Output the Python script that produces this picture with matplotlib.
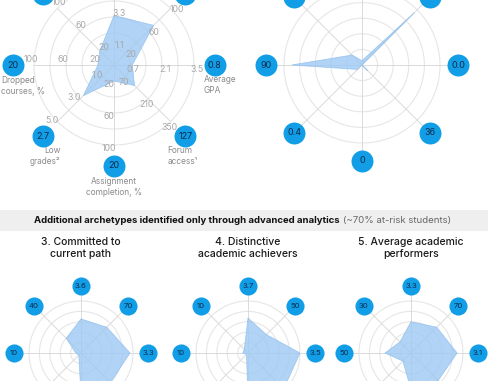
import numpy as np
import matplotlib.pyplot as plt
from matplotlib.patches import Rectangle

plt.rcParams['font.family'] = ['Inter', 'DejaVu Sans']

W, H = 488, 381
BLUE = "#119ee6"
NAVY = "#0d2b4d"
FILL = "#9ec9f3"
RING = "#e6e6e6"
SPOKE = "#dadada"
GREY = "#8a8a8a"

# per-axis scale, clockwise from top
axis_max = [5.5, 100, 3.5, 350, 100, 5.0, 100, 100]
tick_fracs = [0.2, 0.6, 1.0]
tick_labels = [
    ["1.1", "3.3", "5.5"],
    ["20", "60", "100"],
    ["0.7", "2.1", "3.5"],
    ["70", "210", "350"],
    ["20", "60", "100"],
    ["1.0", "3.0", "5.0"],
    ["20", "60", "100"],
    ["20", "60", "100"],
]
axis_names = ["", "", "Average\nGPA", "Forum\naccess\u00b9", "Assignment\ncompletion, %",
              "Low\ngrades\u00b2", "Dropped\ncourses, %", ""]

vals_1 = [3.4, 70, 0.8, 127, 20, 2.7, 20, 25]
labels_1 = ["3.4", "70", "0.8", "127", "20", "2.7", "20", "25"]
vals_2 = [0.3, 95, 0.0, 36, 0, 0.4, 90, 18]
labels_2 = ["0.3", "95", "0.0", "36", "0", "0.4", "90", "18"]
vals_3 = [3.6, 70, 3.3, 280, 80, 0.3, 10, 40]
labels_3 = ["3.6", "70", "3.3", "280", "80", "0.3", "10", "40"]
vals_4 = [3.7, 50, 3.5, 340, 90, 0.2, 10, 10]
labels_4 = ["3.7", "50", "3.5", "340", "90", "0.2", "10", "10"]
vals_5 = [3.3, 70, 3.1, 260, 70, 1.1, 50, 30]
labels_5 = ["3.3", "70", "3.1", "260", "70", "1.1", "50", "30"]

titles = ["3. Committed to\ncurrent path", "4. Distinctive\nacademic achievers",
          "5. Average academic\nperformers"]

angles = np.arange(8) * np.pi / 4

fig = plt.figure(figsize=(W / 100, H / 100), dpi=100)


def radar(cx, cy, R, values, labels, lab_r, dot_s, dot_fs, spoke_end):
    ax = fig.add_axes([(cx - R) / W, (H - cy - R) / H, 2 * R / W, 2 * R / H],
                      projection='polar')
    ax.set_theta_zero_location('N')
    ax.set_theta_direction(-1)
    ax.set_ylim(0, 1)
    ax.axis('off')
    t = np.linspace(0, 2 * np.pi, 240)
    for r in [0.2, 0.4, 0.6, 0.8, 1.0]:
        ax.plot(t, np.full_like(t, r), color=RING, lw=0.8, clip_on=False, zorder=1)
    for a in angles:
        ax.plot([a, a], [0, spoke_end], color=SPOKE, lw=0.7, clip_on=False, zorder=1)
    frac = np.array(values) / np.array(axis_max)
    ax.fill(np.append(angles, angles[0]), np.append(frac, frac[0]),
            facecolor=FILL, edgecolor="#8fbfee", lw=0.6, alpha=0.8, zorder=2)
    ax.scatter(angles, [lab_r] * 8, s=dot_s, color=BLUE, clip_on=False, zorder=5,
               linewidths=0)
    for a, lab in zip(angles, labels):
        ax.text(a, lab_r, lab, ha='center', va='center', fontsize=dot_fs, color=NAVY,
                clip_on=False, zorder=6)
    return ax


# top row
ax1 = radar(114, 65, 80, vals_1, labels_1, 1.26, 250, 6.5, 1.0)
for a, ticks in zip(angles, tick_labels):
    off = np.array([np.cos(a), -np.sin(a)]) * 5
    for f, lab in zip(tick_fracs, ticks):
        ax1.annotate(lab, (a, f + 0.04), xytext=off, textcoords='offset pixels',
                     ha='center', va='center', fontsize=6.3, color="#a8a8a8",
                     annotation_clip=False, zorder=3)

name_offsets = {2: (-11, -10, 'left'), 3: (-18, -10, 'left'), 4: (0, -11, 'center'),
                5: (18, -10, 'right'), 6: (-12, -11, 'left')}
for i, (dx, dy, ha) in name_offsets.items():
    ax1.annotate(axis_names[i], (angles[i], 1.26), xytext=(dx, dy),
                 textcoords='offset pixels', ha=ha, va='top', fontsize=6,
                 color=GREY, linespacing=1.25, annotation_clip=False)

radar(362, 65, 78, vals_2, labels_2, 1.23, 250, 6.5, 1.12)

# header band
fig.patches.append(Rectangle((0, 1 - 231 / H), 1, 21 / H, transform=fig.transFigure,
                             facecolor="#efefef", edgecolor='none', zorder=0))
fig.text(340 / W, 1 - 220 / H, "Additional archetypes identified only through advanced analytics",
         ha='right', va='center', fontsize=6.9, fontweight='bold', color="#111111")
fig.text(343 / W, 1 - 220 / H, "(~70% at-risk students)", ha='left', va='center',
         fontsize=6.9, color="#666666")

# bottom row
for cx, title, vals, labs in zip([81, 248, 411], titles, [vals_3, vals_4, vals_5],
                                 [labels_3, labels_4, labels_5]):
    fig.text(cx / W, 1 - 237 / H, title, ha='center', va='top', fontsize=7.5,
             fontweight='medium', color="#1a1a1a", linespacing=1.2)
    radar(cx, 353, 52, vals, labs, 1.29, 170, 5.6, 1.12)

fig.savefig("out.png", dpi=100)
